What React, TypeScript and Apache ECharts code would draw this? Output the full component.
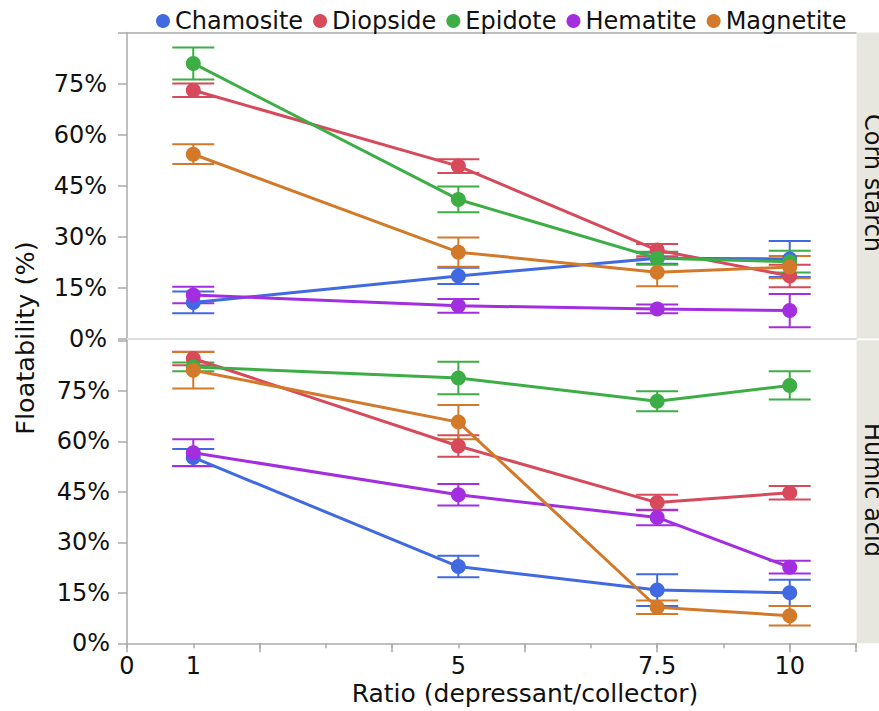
import React, { useEffect, useRef } from "react";
import * as echarts from "echarts";

// ---- data ----
const minerals = ["Chamosite", "Diopside", "Epidote", "Hematite", "Magnetite"];
const colors = ["#4169e1", "#d64a5b", "#3dae46", "#a32ee0", "#d2792a"];

// positions of the four measured ratios on the (0..11) axis
const xPositions = [1, 5, 8, 10];
// axis tick labels by axis position
const xTickValues = [0, 1, 5, 8, 10];
const xTickTexts = ["0", "1", "5", "7.5", "10"];

const panels = ["Corn starch", "Humic acid"];

// Corn starch (means, % floatability) and error (+/-)
const chamositeCorn = [10.6, 18.4, 23.6, 23.4];
const chamositeCornErr = [3.2, 2.4, 1.6, 5.3];
const diopsideCorn = [73.0, 50.7, 26.0, 18.4];
const diopsideCornErr = [2.0, 2.0, 1.8, 3.3];
const epidoteCorn = [80.9, 40.9, 23.6, 22.6];
const epidoteCornErr = [4.7, 3.8, 1.9, 3.2];
const hematiteCorn = [12.8, 9.6, 8.7, 8.2];
const hematiteCornErr = [2.4, 2.0, 1.3, 4.9];
const magnetiteCorn = [54.2, 25.4, 19.5, 21.0];
const magnetiteCornErr = [2.9, 4.3, 4.1, 3.3];

// Humic acid
const chamositeHumic = [55.2, 22.8, 15.8, 15.0];
const chamositeHumicErr = [2.5, 3.2, 4.7, 3.9];
const diopsideHumic = [84.6, 58.6, 41.8, 44.7];
const diopsideHumicErr = [2.0, 3.2, 2.3, 2.0];
const epidoteHumic = [82.1, 78.8, 71.9, 76.6];
const epidoteHumicErr = [1.3, 4.8, 3.0, 4.2];
const hematiteHumic = [56.6, 44.1, 37.4, 22.6];
const hematiteHumicErr = [4.0, 3.2, 2.3, 1.9];
const magnetiteHumic = [81.1, 65.7, 10.7, 8.2];
const magnetiteHumicErr = [5.4, 5.1, 2.0, 2.9];

const yTicks = [0, 15, 30, 45, 60, 75];

const cornMeans = [chamositeCorn, diopsideCorn, epidoteCorn, hematiteCorn, magnetiteCorn];
const cornErrs = [chamositeCornErr, diopsideCornErr, epidoteCornErr, hematiteCornErr, magnetiteCornErr];
const humicMeans = [chamositeHumic, diopsideHumic, epidoteHumic, hematiteHumic, magnetiteHumic];
const humicErrs = [chamositeHumicErr, diopsideHumicErr, epidoteHumicErr, hematiteHumicErr, magnetiteHumicErr];

const FONT = "DejaVu Sans, Verdana, sans-serif";
const TEXT = "#111";
const AXIS = "#aaa";

function buildOption() {
  const lineSeries: any[] = [];
  const errSeries: any[] = [];
  const panelData = [
    { means: cornMeans, errs: cornErrs, xi: 0, yi: 0 },
    { means: humicMeans, errs: humicErrs, xi: 2, yi: 1 },
  ];
  panelData.forEach((p) => {
    minerals.forEach((name, i) => {
      const color = colors[i];
      lineSeries.push({
        type: "line",
        name,
        xAxisIndex: p.xi,
        yAxisIndex: p.yi,
        data: xPositions.map((x, j) => [x, p.means[i][j]]),
        symbol: "circle",
        symbolSize: 15,
        showSymbol: true,
        lineStyle: { width: 3, color },
        itemStyle: { color },
        emphasis: { disabled: true },
        z: 3,
      });
      errSeries.push({
        type: "custom",
        name,
        xAxisIndex: p.xi,
        yAxisIndex: p.yi,
        itemStyle: { color },
        data: xPositions.map((x, j) => [x, p.means[i][j] - p.errs[i][j], p.means[i][j] + p.errs[i][j]]),
        encode: { x: 0, y: [1, 2] },
        z: 2,
        renderItem: (params: any, api: any) => {
          const x = api.value(0);
          const lo = api.value(1);
          const hi = api.value(2);
          const t = api.coord([x, hi]);
          const b = api.coord([x, lo]);
          const w = 21;
          const st = { stroke: color, lineWidth: 2 };
          return {
            type: "group",
            children: [
              { type: "line", shape: { x1: t[0], y1: t[1], x2: b[0], y2: b[1] }, style: st },
              { type: "line", shape: { x1: t[0] - w, y1: t[1], x2: t[0] + w, y2: t[1] }, style: st },
              { type: "line", shape: { x1: b[0] - w, y1: b[1], x2: b[0] + w, y2: b[1] }, style: st },
            ],
          };
        },
      });
    });
  });

  const yAxisBase = (gridIndex: number, margin: number) => ({
    gridIndex,
    type: "value",
    min: 0,
    max: 90,
    interval: 15,
    axisLine: { show: true, lineStyle: { color: AXIS, width: 1.5 } },
    axisTick: { show: true, length: 9, lineStyle: { color: AXIS, width: 1.5 } },
    splitLine: { show: false },
    axisLabel: {
      fontSize: 24,
      fontFamily: FONT,
      color: TEXT,
      margin,
      formatter: (v: number) => (yTicks.indexOf(v) >= 0 ? v + "%" : ""),
    },
  });

  const gTop = { left: 127, top: 32.5, width: 729, height: 306 };
  const gBot = { left: 127, top: 340.3, width: 729, height: 303 };

  return {
    animation: false,
    backgroundColor: "#fff",
    textStyle: { fontFamily: FONT },
    legend: {
      data: minerals,
      left: 151,
      top: 4,
      icon: "circle",
      itemWidth: 14,
      itemHeight: 14,
      itemGap: 10,
      textStyle: { fontSize: 24, color: TEXT, fontFamily: FONT },
    },
    grid: [gTop, gBot],
    xAxis: [
      {
        gridIndex: 0,
        type: "value",
        min: 0,
        max: 11,
        interval: 1,
        position: "bottom",
        axisLine: { show: true, onZero: false, lineStyle: { color: "#ddd", width: 2 } },
        axisTick: { show: false },
        axisLabel: { show: false },
        splitLine: { show: false },
      },
      {
        gridIndex: 0,
        type: "value",
        min: 0,
        max: 11,
        interval: 1,
        position: "top",
        axisLine: { show: true, onZero: false, lineStyle: { color: AXIS, width: 1.5 } },
        axisTick: { show: false },
        axisLabel: { show: false },
        splitLine: { show: false },
      },
      {
        gridIndex: 1,
        type: "value",
        min: 0,
        max: 11,
        interval: 1,
        position: "bottom",
        axisLine: { show: true, onZero: false, lineStyle: { color: AXIS, width: 1.5 } },
        axisTick: { show: true, length: 5, lineStyle: { color: AXIS, width: 1.5 } },
        axisLabel: {
          fontSize: 24,
          fontFamily: FONT,
          color: TEXT,
          margin: 11,
          formatter: (v: number) => {
            const k = xTickValues.indexOf(v);
            return k >= 0 ? xTickTexts[k] : "";
          },
        },
        splitLine: { show: false },
        name: "Ratio (depressant/collector)",
        nameLocation: "middle",
        nameGap: 38,
        nameTextStyle: { fontSize: 25, fontFamily: FONT, color: TEXT, padding: [0, 0, 0, 67] },
      },
      {
        gridIndex: 1,
        type: "value",
        min: 0,
        max: 11,
        interval: 2,
        position: "bottom",
        axisLine: { show: false, onZero: false },
        axisTick: { show: true, length: 9, lineStyle: { color: AXIS, width: 1.5 } },
        axisLabel: { show: false },
        splitLine: { show: false },
      },
    ],
    yAxis: [yAxisBase(0, 20), yAxisBase(1, 17)],
    graphic: [
      {
        type: "rect",
        shape: { x: 856.5, y: 32.5, width: 30, height: 306 },
        style: { fill: "#e7e7df" },
        z: -1,
      },
      {
        type: "rect",
        shape: { x: 856.5, y: 340.3, width: 30, height: 303 },
        style: { fill: "#e7e7df" },
        z: -1,
      },
      {
        type: "text",
        x: 861,
        y: 183,
        rotation: -Math.PI / 2,
        style: {
          text: panels[0],
          fontSize: 24,
          fontFamily: FONT,
          fill: TEXT,
          align: "center",
          verticalAlign: "bottom",
        },
      },
      {
        type: "text",
        x: 861,
        y: 490,
        rotation: -Math.PI / 2,
        style: {
          text: panels[1],
          fontSize: 24,
          fontFamily: FONT,
          fill: TEXT,
          align: "center",
          verticalAlign: "bottom",
        },
      },
      {
        type: "text",
        x: 25,
        y: 338,
        rotation: Math.PI / 2,
        style: {
          text: "Floatability (%)",
          fontSize: 25.5,
          fontFamily: FONT,
          fill: TEXT,
          align: "center",
          verticalAlign: "middle",
        },
      },
    ],
    series: [...lineSeries, ...errSeries],
  };
}

export default function App() {
  const ref = useRef<HTMLDivElement>(null);
  useEffect(() => {
    document.body.style.margin = "0";
    if (!ref.current) return;
    const chart = echarts.init(ref.current, null, { renderer: "svg" });
    chart.setOption(buildOption() as any);
    return () => {
      chart.dispose();
    };
  }, []);
  return <div ref={ref} style={{ width: 879, height: 711 }} />;
}
